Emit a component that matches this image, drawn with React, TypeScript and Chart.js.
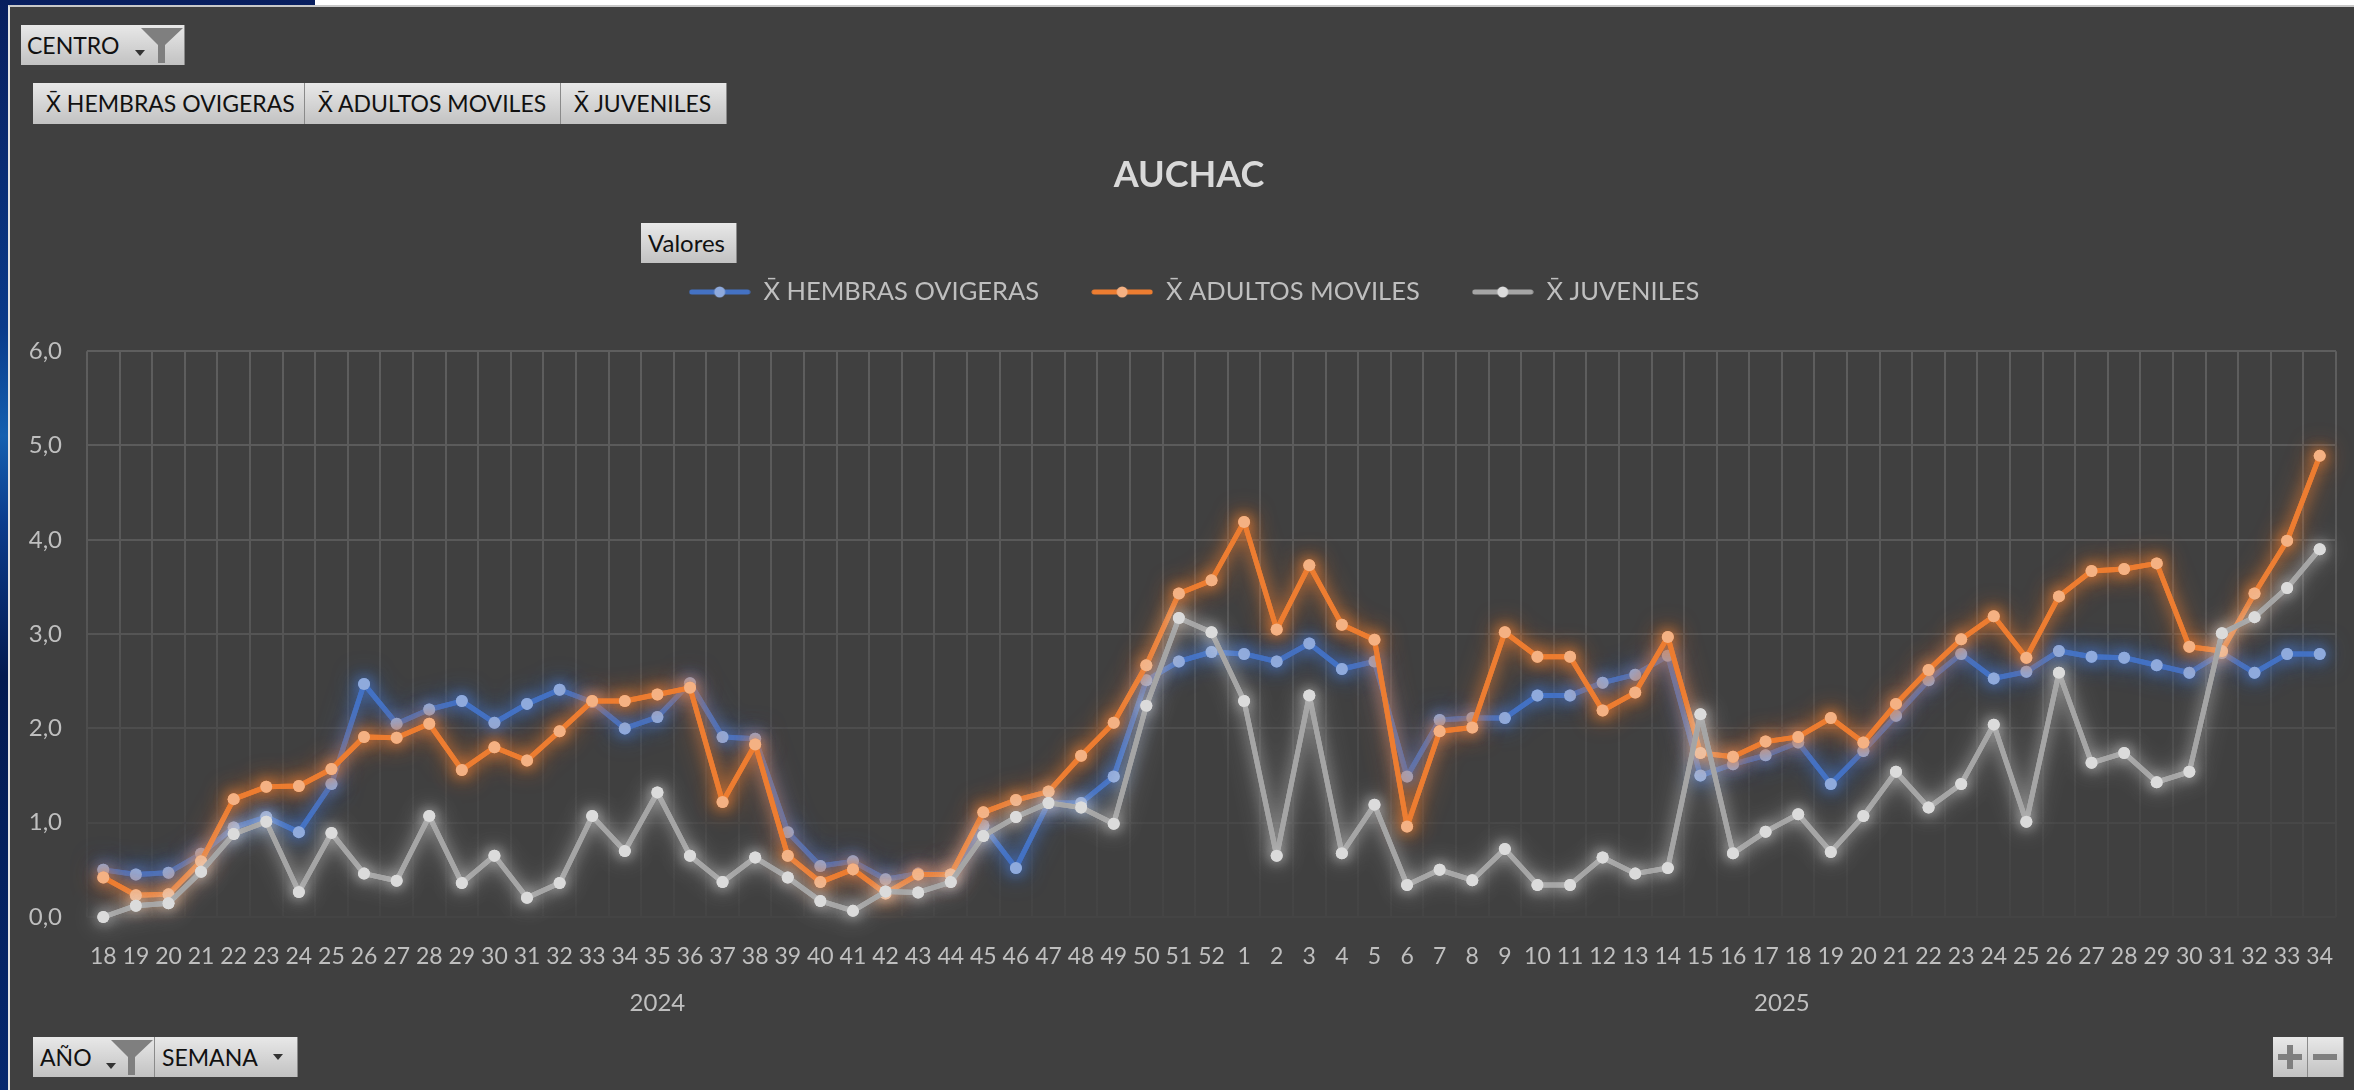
import React, { useEffect, useRef } from "react";
import { Chart, registerables } from "chart.js";

Chart.register(...registerables);

const weeks2024 = ["18","19","20","21","22","23","24","25","26","27","28","29","30","31","32","33","34","35","36","37","38","39","40","41","42","43","44","45","46","47","48","49","50","51","52"];
const weeks2025 = ["1","2","3","4","5","6","7","8","9","10","11","12","13","14","15","16","17","18","19","20","21","22","23","24","25","26","27","28","29","30","31","32","33","34"];
const categories = [...weeks2024, ...weeks2025];
const yTicks = [0, 1, 2, 3, 4, 5, 6];

const hembras = [0.5,0.45,0.47,0.67,0.95,1.06,0.9,1.41,2.47,2.05,2.2,2.29,2.06,2.26,2.41,2.28,2.0,2.12,2.48,1.91,1.89,0.9,0.54,0.59,0.4,0.46,0.45,0.97,0.52,1.21,1.21,1.49,2.51,2.71,2.81,2.79,2.71,2.9,2.63,2.71,1.49,2.09,2.11,2.11,2.35,2.35,2.485,2.57,2.77,1.5,1.62,1.715,1.85,1.41,1.76,2.135,2.51,2.79,2.53,2.6,2.82,2.76,2.75,2.67,2.59,2.8,2.59,2.79,2.79];
const adultos = [0.42,0.23,0.24,0.59,1.25,1.38,1.39,1.57,1.91,1.9,2.05,1.56,1.8,1.66,1.97,2.29,2.29,2.36,2.43,1.22,1.83,0.65,0.37,0.505,0.25,0.45,0.45,1.11,1.24,1.33,1.71,2.06,2.67,3.43,3.57,4.19,3.05,3.73,3.1,2.94,0.96,1.97,2.01,3.02,2.76,2.76,2.19,2.38,2.97,1.74,1.7,1.86,1.91,2.11,1.85,2.26,2.62,2.945,3.19,2.75,3.4,3.67,3.69,3.75,2.865,2.82,3.43,3.99,4.89];
const juveniles = [0,0.12,0.145,0.48,0.88,1.01,0.265,0.89,0.46,0.385,1.07,0.36,0.65,0.205,0.36,1.07,0.7,1.32,0.65,0.37,0.63,0.42,0.17,0.065,0.27,0.26,0.37,0.86,1.06,1.21,1.16,0.99,2.24,3.17,3.02,2.29,0.65,2.35,0.675,1.19,0.34,0.5,0.39,0.72,0.34,0.34,0.63,0.46,0.52,2.15,0.675,0.905,1.09,0.69,1.07,1.54,1.16,1.41,2.04,1.01,2.59,1.635,1.74,1.43,1.54,3.01,3.18,3.49,3.9];

const seriesNames = ["X\u0304 HEMBRAS OVIGERAS", "X\u0304 ADULTOS MOVILES", "X\u0304 JUVENILES"];
const yearNames = ["2024", "2025"];
const yearSizes = [weeks2024.length, weeks2025.length];
const titleText = "AUCHAC";

const lineColors = ["#4472C4", "#ED7D31", "#A5A5A5"];
const pointColors = ["#8FAADC", "#F4B183", "#DBDBDB"];
const glowColors = ["rgba(68,114,196,0.9)", "rgba(237,125,49,0.9)", "rgba(225,225,225,0.6)"];
const textColor = "#BFBFBF";
const fontFamily = "Lato, 'Open Sans', sans-serif";

function swatch(i: number) {
  const c = document.createElement("canvas");
  c.width = 62;
  c.height = 14;
  const g = c.getContext("2d")!;
  g.strokeStyle = lineColors[i];
  g.lineWidth = 5;
  g.lineCap = "round";
  g.beginPath();
  g.moveTo(3, 7);
  g.lineTo(59, 7);
  g.stroke();
  g.fillStyle = pointColors[i];
  g.beginPath();
  g.arc(31, 7, 5.5, 0, Math.PI * 2);
  g.fill();
  return c;
}

const glowPlugin = {
  id: "glow",
  beforeDatasetDraw(chart: any, args: any) {
    const ctx = chart.ctx;
    ctx.save();
    ctx.shadowColor = glowColors[args.index];
    ctx.shadowBlur = 26;
    args.meta.controller.draw();
    ctx.shadowBlur = 14;
  },
  afterDatasetDraw(chart: any) {
    chart.ctx.restore();
  },
};

const yearPlugin = {
  id: "years",
  afterDraw(chart: any) {
    const ctx = chart.ctx;
    const x = chart.scales.x;
    let start = 0;
    ctx.save();
    ctx.font = `24px ${fontFamily}`;
    ctx.fillStyle = textColor;
    ctx.textAlign = "center";
    ctx.textBaseline = "middle";
    yearNames.forEach((name, i) => {
      const mid = start + (yearSizes[i] - 1) / 2;
      ctx.fillText(name, x.getPixelForValue(mid), chart.chartArea.bottom + 86);
      start += yearSizes[i];
    });
    ctx.restore();
  },
};

const shiftPlugin = {
  id: "shift",
  beforeInit(chart: any) {
    const fit = chart.legend.fit;
    chart.legend.fit = function () {
      fit.call(this);
      this.height += 36.5;
    };
  },
  afterLayout(chart: any) {
    chart.legend.left += 22;
    chart.legend.right += 22;
    chart.titleBlock.left += 17;
    chart.titleBlock.right += 17;
  },
};

function gridColor(ctx: any) {
  const area = ctx.chart.chartArea;
  if (!area) return "#555555";
  const g = ctx.chart.ctx.createLinearGradient(0, area.top, 0, area.bottom);
  g.addColorStop(0, "#5E5E5E");
  g.addColorStop(0.45, "#575757");
  g.addColorStop(0.75, "#494949");
  g.addColorStop(1, "#444444");
  return g;
}

const btnBg = "linear-gradient(#E8E8E8, #C2C2C2)";

function Funnel({ x }: { x: number }) {
  return (
    <svg style={{ position: "absolute", left: x, top: 2, width: 42, height: 36 }} viewBox="0 0 42 36">
      <polygon points="0,1 42,1 24,18 24,36 17,36 17,18" fill="#7F7F7F" />
    </svg>
  );
}

function Arrow({ x, y }: { x: number; y: number }) {
  return <div style={{ position: "absolute", left: x, top: y, width: 0, height: 0, borderLeft: "5px solid transparent", borderRight: "5px solid transparent", borderTop: "6px solid #333" }} />;
}

function Btn({ l, t, w, h, text, pad = 7, size = 23, children }: any) {
  return (
    <div style={{ position: "absolute", left: l, top: t, width: w, height: h, background: btnBg, borderRight: "1px solid #8a8a8a", boxSizing: "border-box", color: "#111111", fontFamily, fontSize: size, lineHeight: `${h}px`, paddingLeft: pad, whiteSpace: "nowrap", overflow: "hidden" }}>
      {text}
      {children}
    </div>
  );
}

function Glyph({ plus }: { plus: boolean }) {
  return (
    <>
      <div style={{ position: "absolute", left: 5, top: 17, width: 24, height: 6, background: "#7F7F7F" }} />
      {plus && <div style={{ position: "absolute", left: 14, top: 8, width: 6, height: 24, background: "#7F7F7F" }} />}
    </>
  );
}

export default function App() {
  const ref = useRef<HTMLCanvasElement>(null);
  useEffect(() => {
    const data = [hembras, adultos, juveniles];
    const chart = new Chart(ref.current!, {
      type: "line",
      data: {
        labels: categories,
        datasets: data.map((values, i) => ({
          label: seriesNames[i],
          data: values,
          order: 3 - i,
          borderColor: lineColors[i],
          backgroundColor: pointColors[i],
          pointBackgroundColor: pointColors[i],
          pointBorderColor: pointColors[i],
          pointBorderWidth: 0,
          pointRadius: 6,
          pointStyle: "circle",
          borderWidth: 5,
          borderJoinStyle: "round",
          borderCapStyle: "round",
          tension: 0,
          fill: false,
          clip: false,
        })),
      },
      options: {
        animation: false,
        responsive: false,
        layout: { padding: { left: 0, right: 18, top: 0, bottom: 0 } },
        plugins: {
          tooltip: { enabled: false },
          title: {
            display: true,
            text: titleText,
            color: "#D9D9D9",
            font: { family: fontFamily, size: 36, weight: "bold" },
            padding: { top: 147, bottom: 30 },
          },
          legend: {
            display: true,
            position: "top",
            labels: {
              color: textColor,
              font: { family: fontFamily, size: 25.5 },
              usePointStyle: true,
              pointStyleWidth: 62,
              padding: 52,
              generateLabels: () =>
                seriesNames.map((name, i) => ({
                  text: name,
                  fontColor: textColor,
                  datasetIndex: i,
                  pointStyle: swatch(i),
                  lineWidth: 0,
                  hidden: false,
                })),
            },
          },
        },
        scales: {
          x: {
            type: "category",
            offset: true,
            afterFit(scale: any) {
              scale.height = 173;
              scale.paddingLeft = 0;
              scale.paddingRight = 0;
            },
            border: { display: false },
            grid: { color: gridColor, lineWidth: 2, offset: true, drawTicks: false },
            ticks: {
              color: textColor,
              font: { family: fontFamily, size: 23 },
              padding: 26,
              autoSkip: false,
              maxRotation: 0,
              minRotation: 0,
            },
          },
          y: {
            min: yTicks[0],
            max: yTicks[yTicks.length - 1],
            afterFit(scale: any) {
              scale.width = 79;
              scale.paddingTop = 0;
              scale.paddingBottom = 0;
            },
            border: { display: false },
            grid: { color: gridColor, lineWidth: 2, drawTicks: false },
            afterBuildTicks(scale: any) {
              scale.ticks = yTicks.map((value) => ({ value }));
            },
            ticks: {
              color: textColor,
              font: { family: fontFamily, size: 24 },
              padding: 25,
              callback: (v: any) => Number(v).toFixed(1).replace(".", ","),
            },
          },
        },
      },
      plugins: [glowPlugin, yearPlugin, shiftPlugin],
    } as any);
    return () => chart.destroy();
  }, []);

  return (
    <div style={{ position: "absolute", left: 0, top: 0, width: 2354, height: 1090, overflow: "hidden", background: "linear-gradient(#081E5E, #0A3A8A 30%, #1560B0 40%, #0B3C8C 48%, #031A50 62%, #04205E 78%, #06286E)" }}>
      <div style={{ position: "absolute", left: 315, top: 0, right: 0, height: 6, background: "#FFFFFF" }} />
      <div style={{ position: "absolute", left: 8, top: 5, right: 0, bottom: 0, background: "#404040", borderLeft: "2px solid #E4E4E4", borderTop: "2px solid #C8C8C8", boxSizing: "border-box" }} />
      <canvas ref={ref} width={2346} height={1083} style={{ position: "absolute", left: 8, top: 7, display: "block" }} />
      <Btn l={21} t={25} w={164} h={40} text="CENTRO" pad={6}>
        <Arrow x={114} y={25} />
        <Funnel x={120} />
      </Btn>
      <Btn l={33} t={83} w={272} h={41} text={seriesNames[0]} pad={13} />
      <Btn l={305} t={83} w={256} h={41} text={seriesNames[1]} pad={13} />
      <Btn l={561} t={83} w={166} h={41} text={seriesNames[2]} pad={13} />
      <Btn l={641} t={223} w={96} h={40} text="Valores" pad={7} size={24} />
      <Btn l={33} t={1037} w={122} h={40} text="AÑO" pad={7}>
        <Arrow x={73} y={26} />
        <Funnel x={78} />
      </Btn>
      <Btn l={155} t={1037} w={143} h={40} text="SEMANA" pad={7}>
        <Arrow x={118} y={17} />
      </Btn>
      <Btn l={2273} t={1037} w={35} h={40} text="">
        <Glyph plus />
      </Btn>
      <Btn l={2308} t={1037} w={36} h={40} text="">
        <Glyph plus={false} />
      </Btn>
    </div>
  );
}
